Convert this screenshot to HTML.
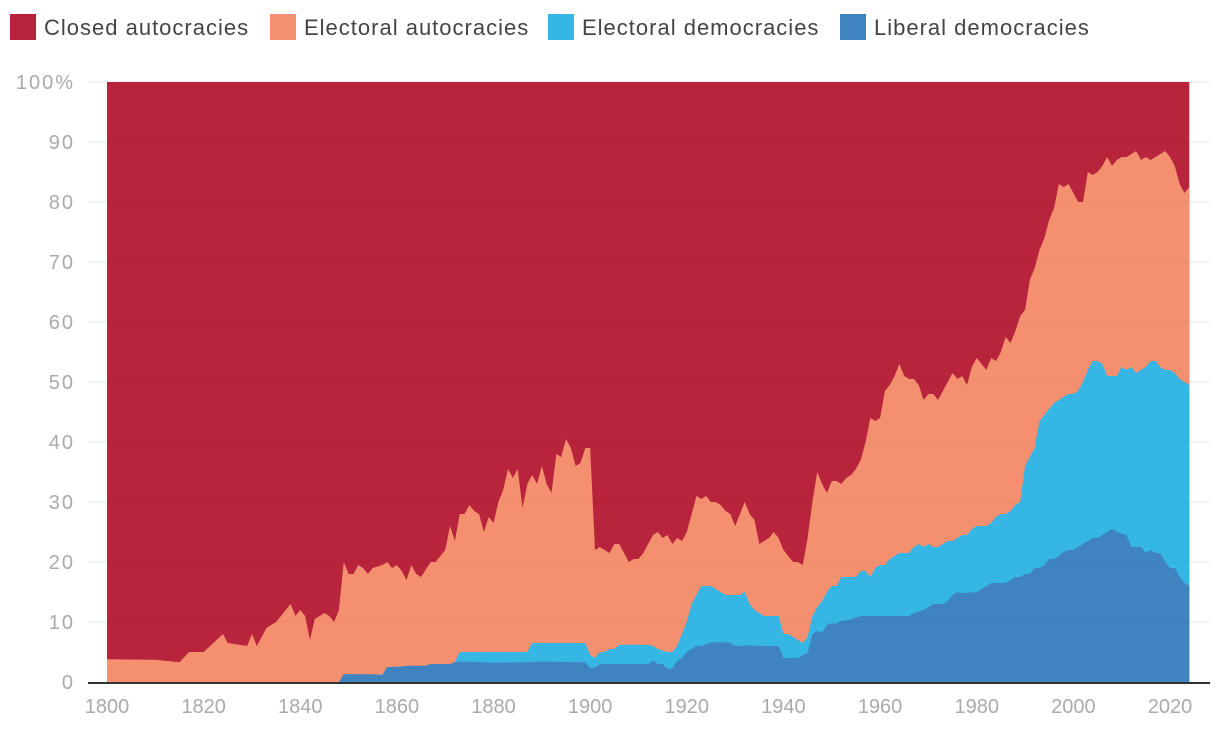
<!DOCTYPE html>
<html><head><meta charset="utf-8"><style>
html,body{margin:0;padding:0;background:#fff;}
svg{display:block;font-family:"Liberation Sans",sans-serif;}
</style></head><body>
<svg id="chart" width="1220" height="734" viewBox="0 0 1220 734" xmlns="http://www.w3.org/2000/svg">
<g>
 <g><rect x="10" y="14" width="26" height="26" fill="#b8243c"/><text x="44" y="35" font-size="22" letter-spacing="1" fill="#444">Closed autocracies</text></g>
 <g><rect x="270" y="14" width="26" height="26" fill="#f4906f"/><text x="304" y="35" font-size="22" letter-spacing="1" fill="#444">Electoral autocracies</text></g>
 <g><rect x="548" y="14" width="26" height="26" fill="#35b6e5"/><text x="582" y="35" font-size="22" letter-spacing="1" fill="#444">Electoral democracies</text></g>
 <g><rect x="840" y="14" width="26" height="26" fill="#4083c1"/><text x="874" y="35" font-size="22" letter-spacing="1" fill="#444">Liberal democracies</text></g>
</g>
<g id="grid"></g><g id="areas"></g><g id="axes"></g>
</svg>
<script>
// Stacked cumulative tops (percent)
const eaYears=[1800,1810,1815,1817,1820,1822,1824,1825,1829,1830,1831,1833,1835,1837,1838,1839,1840,1841,1842,1843,1845,1846,1847,1848,1849,1850,1851,1852,1853,1854,1855,1857,1858,1859,1860,1861,1862,1863,1864,1865,1867,1868,1870,1871,1872,1873,1874,1875,1876,1877,1878,1879,1880,1881,1882,1883,1884,1885,1886,1887,1888,1889,1890,1891,1892,1893,1894,1895,1896,1897,1898,1899,1900,1901,1902,1903,1904,1905,1906,1907,1908,1909,1910,1911,1912,1913,1914,1915,1916,1917,1918,1919,1920,1921,1922,1923,1924,1925,1926,1927,1928,1929,1930,1931,1932,1933,1934,1935,1936,1937,1938,1939,1940,1941,1942,1943,1944,1945,1946,1947,1948,1949,1950,1951,1952,1953,1954,1955,1956,1957,1958,1959,1960,1961,1962,1963,1964,1965,1966,1967,1968,1969,1970,1971,1972,1973,1974,1975,1976,1977,1978,1979,1980,1981,1982,1983,1984,1985,1986,1987,1988,1989,1990,1991,1992,1993,1994,1995,1996,1997,1998,1999,2000,2001,2002,2003,2004,2005,2006,2007,2008,2009,2010,2011,2012,2013,2014,2015,2016,2017,2018,2019,2020,2021,2022,2023,2024];
const eaTop=[3.8,3.7,3.3,5,5,6.5,8,6.5,6,8,6,9,10,12,13,11,12,11,7,10.5,11.5,11,10,12,20,18,18,19.5,19,18,19,19.5,20,19,19.5,18.5,17,19.5,18,17.5,20,20,22,26,23.5,28,28,29.5,28.5,28,25,27.5,26.5,30,32,35.5,34,35.5,29,33,34.5,33,36,33,31.5,38,37.5,40.5,39,36,36.5,39,39,22,22.5,22,21.5,23,23,21.5,20,20.5,20.5,21.5,23,24.5,25,24,24.5,23,24,23.5,25,28,31,30.5,31,30,30,29.5,28.5,28,26,28,30,28,27,23,23.5,24,25,24,22,21,20,20,19.5,24,30,35,33,31.5,33.5,33.5,33,34,34.5,35.5,37,40,44,43.5,44,48.5,49.5,51,53,51,50.5,50.5,49.5,47,48,48,47,48.5,50,51.5,50.5,51,49.5,52.5,54,53,52,54,53.5,55,57.5,56.5,58.5,61,62,67,69,72,74,77,79,83,82.5,83,81.5,80,80,85,84.5,85,86,87.5,86,87,87.5,87.5,88,88.5,87,87.5,87,87.5,88,88.5,87.5,86,83,81.5,82.5];
const edYears=[1800,1848,1849,1857,1858,1866,1867,1871,1872,1873,1887,1888,1899,1900,1901,1902,1903,1904,1905,1906,1912,1913,1914,1915,1916,1917,1918,1919,1920,1921,1922,1923,1925,1926,1927,1928,1931,1932,1933,1934,1935,1936,1939,1940,1941,1942,1943,1944,1945,1946,1947,1948,1949,1950,1951,1952,1955,1956,1957,1958,1959,1960,1961,1962,1963,1964,1966,1967,1968,1969,1970,1971,1972,1973,1974,1975,1976,1977,1978,1979,1980,1982,1983,1984,1985,1986,1987,1988,1989,1990,1991,1992,1993,1994,1995,1996,1997,1998,1999,2000,2001,2002,2003,2004,2005,2006,2007,2008,2009,2010,2011,2012,2013,2014,2015,2016,2017,2018,2019,2020,2021,2022,2023,2024];
const edTop=[0,0,1.3,1.2,2.5,2.7,3,3,3.3,5,5,6.5,6.5,4.5,4,5,5,5.5,5.5,6.2,6.2,6,5.5,5.2,5,5,6,8,10,13,14.5,16,16,15.5,15,14.5,14.5,15,13,12,11.5,11,11,8,8,7.5,7,6.5,7.5,11,12.5,13.5,15,16,16,17.5,17.5,18.5,18.5,17.5,19,19.5,19.5,20.5,21,21.5,21.5,22.5,23,22.5,23,22.5,22.5,23,23.5,23.5,24,24.5,24.5,25.5,26,26,26.5,27.5,28,28,28.5,29.5,30,36,37.5,39,43.5,44.5,45.5,46.5,47,47.5,48,48,48.5,50,52,53.5,53.5,53,51,51,51,52.5,52,52.5,51.5,52,52.5,53.5,53.5,52.5,52,52,51.5,50.5,50,49.5];
const ldYears=[1800,1848,1849,1855,1856,1857,1858,1860,1862,1866,1867,1871,1872,1873,1875,1880,1887,1890,1899,1900,1901,1902,1912,1913,1914,1915,1916,1917,1918,1919,1920,1921,1922,1923,1924,1925,1928,1929,1930,1931,1932,1935,1939,1940,1943,1944,1945,1946,1947,1948,1949,1950,1951,1952,1954,1955,1956,1966,1967,1969,1970,1971,1973,1974,1975,1976,1977,1980,1981,1982,1983,1986,1987,1988,1989,1990,1991,1992,1993,1994,1995,1996,1997,1998,1999,2000,2001,2002,2003,2004,2005,2006,2007,2008,2009,2010,2011,2012,2013,2014,2015,2016,2017,2018,2019,2020,2021,2022,2023,2024];
const ldTop=[0,0,1.3,1.3,1.2,1.2,2.5,2.5,2.7,2.7,3,3,3.3,3.4,3.4,3.2,3.3,3.4,3.3,2.3,2.4,3,3,3.6,3,3,2.2,2.2,3.5,4,5,5.5,6,6,6.3,6.6,6.6,6.5,6,6,6.1,6,6,4,4,4.5,4.8,8,8.5,8.2,9.5,9.8,9.7,10.2,10.4,10.8,11,11,11.5,12,12.5,13,13,13.5,14.5,15,14.8,15,15.5,16,16.5,16.5,17,17.5,17.5,18,18,19,19,19.5,20.5,20.5,21,21.7,22,22,22.5,23,23.5,24,24,24.5,25,25.5,25,24.8,24.5,22.5,22.5,22.5,21.5,22,21.5,21.5,20,19,19,17.5,16.5,16];
const yTicks=[0,10,20,30,40,50,60,70,80,90,100];
const xTicks=[1800,1820,1840,1860,1880,1900,1920,1940,1960,1980,2000,2020];

const NS='http://www.w3.org/2000/svg';
const X0=107,X1=1189.3,Y0=682,Y1=82,YR0=1800,YR1=2024;
const sx=y=>X0+(y-YR0)/(YR1-YR0)*(X1-X0);
const sy=v=>Y0-v/100*(Y0-Y1);
function mk(tag,attrs,parent){const e=document.createElementNS(NS,tag);for(const k in attrs)e.setAttribute(k,attrs[k]);parent.appendChild(e);return e;}
const grid=document.getElementById('grid'),areas=document.getElementById('areas'),axes=document.getElementById('axes');
yTicks.forEach(t=>{
  if(t>0){const l=mk('line',{x1:88,x2:1210,y1:sy(t),y2:sy(t),stroke:'#e4e4e4','stroke-width':1},grid);
  
  }
  const tx=mk('text',{x:75,y:sy(t)+7,'text-anchor':'end','font-size':20,'letter-spacing':2,fill:'#aaa'},axes);
  tx.textContent=t===100?'100%':String(t);
  
  
});
function area(years,vals,color,name){
  let d='M'+sx(years[0])+','+sy(0);
  years.forEach((y,i)=>{d+=' L'+sx(y).toFixed(2)+','+sy(vals[i]).toFixed(2);});
  d+=' L'+sx(years[years.length-1])+','+sy(0)+' Z';
  const p=mk('path',{d:d,fill:color},areas);
  
  
}
const bg=mk('rect',{x:sx(YR0),y:sy(100),width:sx(YR1)-sx(YR0),height:sy(0)-sy(100),fill:'#b8243c'},areas);


area(eaYears,eaTop,'#f4906f','area-electoral-autocracies');
area(edYears,edTop,'#35b6e5','area-electoral-democracies');
area(ldYears,ldTop,'#4083c1','area-liberal-democracies');
yTicks.forEach(t=>{if(t>0&&t<100){const l=mk('line',{x1:sx(YR0),x2:sx(YR1),y1:sy(t),y2:sy(t),stroke:'rgba(0,0,0,0.04)','stroke-width':1},areas);
  
  }});
const base=mk('line',{x1:88,x2:1210,y1:Y0+1,y2:Y0+1,stroke:'#333','stroke-width':2},axes);


xTicks.forEach(t=>{
  const tx=mk('text',{x:sx(t),y:713,'text-anchor':'middle','font-size':20,fill:'#aaa'},axes);
  tx.textContent=String(t);
  
  
});
</script>
</body></html>
